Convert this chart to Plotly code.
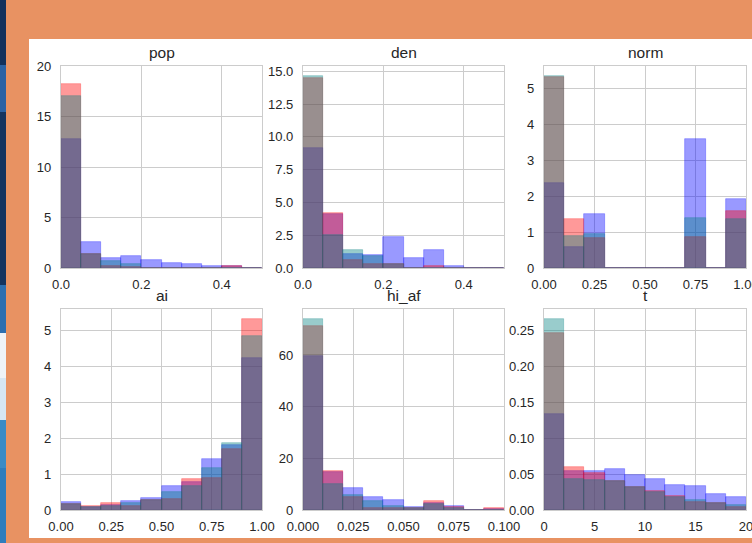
import plotly.graph_objects as go

# ---------------- data ----------------
titles = ["pop", "den", "norm", "ai", "hi_af", "t"]
series_colors = {"blue": (0, 0, 255), "red": (255, 0, 0), "teal": (0, 128, 128)}

pop_edges = [0.0, 0.05, 0.1, 0.15, 0.2, 0.25, 0.3, 0.35, 0.4, 0.45, 0.5]
pop_blue = [12.8, 2.58, 0.99, 1.19, 0.79, 0.5, 0.4, 0.23, 0.23, 0.0]
pop_red = [18.2, 1.35, 0.2, 0.1, 0.0, 0.0, 0.0, 0.0, 0.17, 0.0]
pop_teal = [17.05, 1.4, 0.73, 0.4, 0.0, 0.0, 0.0, 0.0, 0.0, 0.0]

den_edges = [0.0, 0.05, 0.1, 0.15, 0.2, 0.25, 0.3, 0.35, 0.4, 0.45, 0.5]
den_blue = [9.16, 4.15, 1.07, 0.97, 2.37, 0.76, 1.37, 0.15, 0.0, 0.0]
den_red = [14.45, 4.2, 0.61, 0.3, 0.3, 0.0, 0.15, 0.0, 0.0, 0.0]
den_teal = [14.63, 2.49, 1.37, 0.9, 0.3, 0.0, 0.0, 0.0, 0.0, 0.0]

norm_edges = [0.0, 0.1, 0.2, 0.3, 0.4, 0.5, 0.6, 0.7, 0.8, 0.9, 1.0]
norm_blue = [2.38, 0.59, 1.51, 0.0, 0.0, 0.0, 0.0, 3.61, 0.0, 1.93]
norm_red = [5.34, 1.37, 0.84, 0.0, 0.0, 0.0, 0.0, 0.87, 0.0, 1.6]
norm_teal = [5.37, 0.9, 0.95, 0.0, 0.0, 0.0, 0.0, 1.4, 0.0, 1.37]

ai_edges = [0.0, 0.1, 0.2, 0.3, 0.4, 0.5, 0.6, 0.7, 0.8, 0.9, 1.0]
ai_blue = [0.23, 0.09, 0.15, 0.26, 0.34, 0.68, 0.77, 1.43, 1.8, 4.23]
ai_red = [0.18, 0.12, 0.2, 0.12, 0.29, 0.31, 0.87, 0.9, 1.7, 5.33]
ai_teal = [0.18, 0.09, 0.12, 0.19, 0.29, 0.51, 0.68, 1.18, 1.87, 4.86]

hi_af_edges = [0.0, 0.01, 0.02, 0.03, 0.04, 0.05, 0.06, 0.07, 0.08, 0.09, 0.1]
hi_af_blue = [59.6, 14.8, 8.6, 5.1, 4.0, 1.3, 2.6, 1.6, 0.0, 0.3]
hi_af_red = [71.2, 15.1, 5.1, 0.9, 0.9, 0.9, 3.6, 1.0, 0.0, 0.8]
hi_af_teal = [74.1, 10.2, 5.9, 3.5, 1.5, 0.9, 2.4, 0.6, 0.0, 0.0]

t_edges = [0, 2, 4, 6, 8, 10, 12, 14, 16, 18, 20]
t_blue = [0.133, 0.0536, 0.0541, 0.0568, 0.0485, 0.043, 0.0347, 0.0333, 0.0222, 0.018]
t_red = [0.246, 0.0596, 0.0508, 0.040, 0.0314, 0.0263, 0.0194, 0.011, 0.0097, 0.0042]
t_teal = [0.266, 0.0425, 0.042, 0.040, 0.0323, 0.0254, 0.018, 0.0139, 0.0097, 0.0069]

# tick labels
pop_xticks = [0.0, 0.2, 0.4]
pop_yticks = [0, 5, 10, 15, 20]
den_xticks = [0.0, 0.2, 0.4]
den_yticks = [0.0, 2.5, 5.0, 7.5, 10.0, 12.5, 15.0]
norm_xticks = [0.0, 0.25, 0.5, 0.75, 1.0]
norm_yticks = [0, 1, 2, 3, 4, 5]
ai_xticks = [0.0, 0.25, 0.5, 0.75, 1.0]
ai_yticks = [0, 1, 2, 3, 4, 5]
hi_af_xticks = [0.0, 0.025, 0.05, 0.075, 0.1]
hi_af_yticks = [0, 20, 40, 60]
t_xticks = [0, 5, 10, 15, 20]
t_yticks = [0.0, 0.05, 0.1, 0.15, 0.2, 0.25]

panels = [
    dict(edges=pop_edges, blue=pop_blue, red=pop_red, teal=pop_teal,
         xt=pop_xticks, xf=".1f", yt=pop_yticks, yf="d", xr=[0, 0.5], yr=[0, 20.0]),
    dict(edges=den_edges, blue=den_blue, red=den_red, teal=den_teal,
         xt=den_xticks, xf=".1f", yt=den_yticks, yf=".1f", xr=[0, 0.5], yr=[0, 15.4]),
    dict(edges=norm_edges, blue=norm_blue, red=norm_red, teal=norm_teal,
         xt=norm_xticks, xf=".2f", yt=norm_yticks, yf="d", xr=[0, 1.0], yr=[0, 5.64]),
    dict(edges=ai_edges, blue=ai_blue, red=ai_red, teal=ai_teal,
         xt=ai_xticks, xf=".2f", yt=ai_yticks, yf="d", xr=[0, 1.0], yr=[0, 5.6]),
    dict(edges=hi_af_edges, blue=hi_af_blue, red=hi_af_red, teal=hi_af_teal,
         xt=hi_af_xticks, xf=".3f", yt=hi_af_yticks, yf="d", xr=[0, 0.1], yr=[0, 77.8]),
    dict(edges=t_edges, blue=t_blue, red=t_red, teal=t_teal,
         xt=t_xticks, xf="d", yt=t_yticks, yf=".2f", xr=[0, 20], yr=[0, 0.2795]),
]

# ---------------- layout geometry ----------------
W, H = 752, 543
col_px = [(61, 262), (303, 504), (544, 746)]
row_px = [(66, 268), (309, 510)]

fig = go.Figure()
FONT = "Liberation Sans, Arial, sans-serif"
TXT = "#262626"
GRID = "#cccccc"

for i, p in enumerate(panels):
    r, c = divmod(i, 3)
    n = i + 1
    xa = "x" if n == 1 else f"x{n}"
    ya = "y" if n == 1 else f"y{n}"
    e = p["edges"]
    lefts = e[:-1]
    widths = [e[k + 1] - e[k] for k in range(len(e) - 1)]
    for name in ["blue", "red", "teal"]:
        rgb = series_colors[name]
        col = f"rgba({rgb[0]},{rgb[1]},{rgb[2]},0.4)"
        fig.add_trace(go.Bar(
            x=lefts, y=p[name], width=widths, offset=0,
            marker=dict(color=col, line=dict(color=col, width=0.7)),
            xaxis=xa, yaxis=ya, showlegend=False, name=name,
        ))
    x0, x1 = col_px[c]
    yt0, yb0 = row_px[r]
    xkey = "xaxis" if n == 1 else f"xaxis{n}"
    ykey = "yaxis" if n == 1 else f"yaxis{n}"
    common = dict(showgrid=True, gridcolor=GRID, gridwidth=1, showline=True,
                  linecolor=GRID, linewidth=1.3, mirror=True, zeroline=False,
                  ticks="", tickfont=dict(family=FONT, size=13, color=TXT),
                  ticklabeloverflow="allow", automargin=False)
    fig.update_layout(**{
        xkey: dict(domain=[x0 / W, x1 / W], anchor=ya, range=p["xr"],
                   tickvals=p["xt"], tickformat=p["xf"], ticklabelstandoff=4, **common),
        ykey: dict(domain=[1 - yb0 / H, 1 - yt0 / H], anchor=xa, range=p["yr"],
                   tickvals=p["yt"], tickformat=p["yf"], ticklabelstandoff=6, **common),
    })
    fig.add_annotation(text=titles[i], xref="paper", yref="paper",
                       x=(x0 + x1) / 2 / W, y=1 - (yt0 - 3) / H,
                       xanchor="center", yanchor="bottom", showarrow=False,
                       font=dict(family=FONT, size=15.5, color=TXT))

# background decorations: white panel and left strip
shapes = [
    dict(type="rect", xref="paper", yref="paper", x0=29 / W, x1=1.0,
         y0=1 - 538 / H, y1=1 - 39 / H, fillcolor="white", line_width=0, layer="below"),
]
strip = [(0, 65, "#12315c"), (65, 112, "#2a62a4"), (112, 285, "#14345f"),
         (285, 333, "#2c6fb0"), (333, 378, "#eef3f8"), (378, 420, "#d6e6f3"),
         (420, 468, "#3a8bc6"), (468, 543, "#2f7dbd")]
for a, b, colr in strip:
    shapes.append(dict(type="rect", xref="paper", yref="paper", x0=0, x1=6 / W,
                       y0=1 - b / H, y1=1 - a / H, fillcolor=colr, line_width=0, layer="below"))

fig.update_layout(
    width=W, height=H, margin=dict(l=0, r=0, t=0, b=0, pad=0, autoexpand=False),
    paper_bgcolor="#e89262", plot_bgcolor="white",
    barmode="overlay", bargap=0, shapes=shapes,
    font=dict(family=FONT, color=TXT),
)

fig.write_html("out.html", config={"displayModeBar": False},
               post_script="document.body.style.margin='0';document.body.style.overflow='hidden';")
